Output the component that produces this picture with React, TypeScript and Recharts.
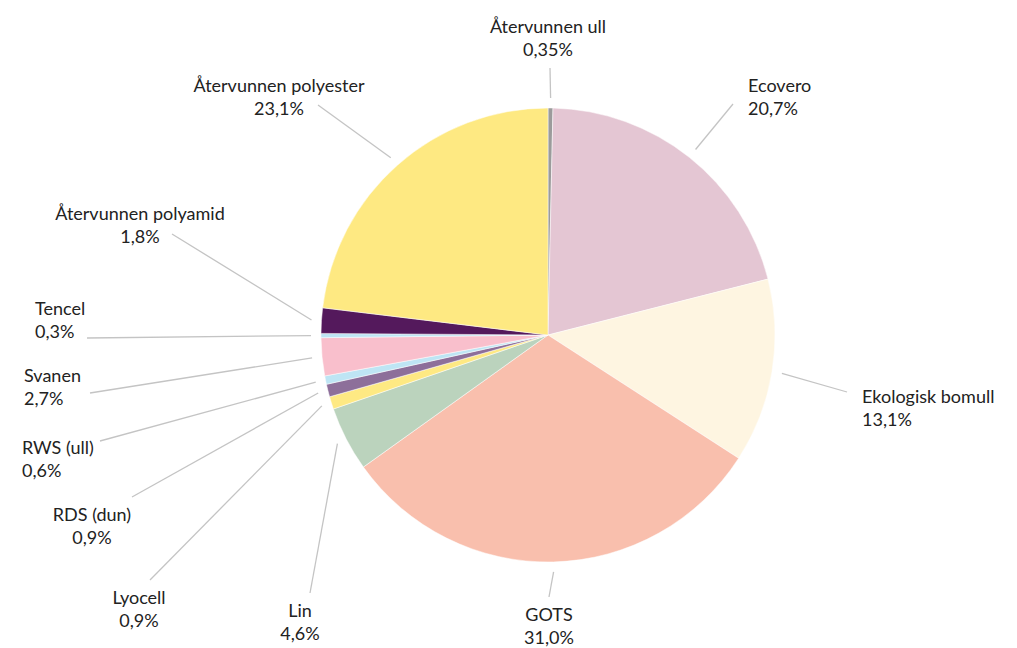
import { PieChart, Pie, Cell } from "recharts";

const materials = [
  "Återvunnen ull",
  "Ecovero",
  "Ekologisk bomull",
  "GOTS",
  "Lin",
  "Lyocell",
  "RDS (dun)",
  "RWS (ull)",
  "Svanen",
  "Tencel",
  "Återvunnen polyamid",
  "Återvunnen polyester",
];
const shares = [0.35, 20.7, 13.1, 31.0, 4.6, 0.9, 0.9, 0.6, 2.7, 0.3, 1.8, 23.1];
const shareLabels = ["0,35%", "20,7%", "13,1%", "31,0%", "4,6%", "0,9%", "0,9%", "0,6%", "2,7%", "0,3%", "1,8%", "23,1%"];
const colors = [
  "#9b9b9b", "#e4c6d3", "#fef5e1", "#f9bfad", "#bbd3bd", "#fee983",
  "#8d6f9a", "#bee5f4", "#f9bfcc", "#bee5f4", "#54195c", "#fee982",
];

// label layout, offsets from pie centre: line end (lx, ly), text position (tx, ty), anchor
const CX = 548;
const CY = 335;
const labelLayout = [
  { lx: 2, ly: -267, tx: 0, ty: -309, anchor: "middle" },
  { lx: 185, ly: -231, tx: 200, ty: -250, anchor: "start" },
  { lx: 299, ly: 57, tx: 314, ty: 61, anchor: "start" },
  { lx: 1, ly: 262, tx: 1, ty: 279, anchor: "middle" },
  { lx: -238, ly: 258, tx: -248, ty: 275, anchor: "middle" },
  { lx: -398, ly: 245, tx: -409, ty: 262, anchor: "middle" },
  { lx: -416, ly: 162, tx: -456, ty: 179, anchor: "middle" },
  { lx: -448, ly: 106, tx: -526, ty: 112, anchor: "start" },
  { lx: -458, ly: 58, tx: -524, ty: 40, anchor: "start" },
  { lx: -461, ly: 3, tx: -513, ty: -27, anchor: "start" },
  { lx: -376, ly: -101, tx: -408, ty: -122, anchor: "middle" },
  { lx: -230, ly: -230, tx: -269, ty: -250, anchor: "middle" },
];

const data = materials.map((name, i) => ({ name, value: shares[i], label: shareLabels[i] }));

const RAD = Math.PI / 180;
const FONT = "Lato, 'Open Sans', sans-serif";

function renderLabel(props: any) {
  const { cx, cy, midAngle, outerRadius, index } = props;
  const lay = labelLayout[index];
  const r = outerRadius + 10;
  const sx = cx + r * Math.cos(-midAngle * RAD);
  const sy = cy + r * Math.sin(-midAngle * RAD);
  const tx = cx + lay.tx;
  const ty = cy + lay.ty;
  return (
    <g key={`lbl-${index}`}>
      <line x1={sx} y1={sy} x2={cx + lay.lx} y2={cy + lay.ly} stroke="#c4c4c4" strokeWidth={1.3} />
      <text x={tx} y={ty} textAnchor={lay.anchor} dominantBaseline="central" fill="#222" fontSize={18} fontFamily={FONT}>
        {data[index].name}
      </text>
      <text x={tx} y={ty + 23} textAnchor={lay.anchor} dominantBaseline="central" fill="#222" fontSize={18} fontFamily={FONT}>
        {data[index].label}
      </text>
    </g>
  );
}

export default function App() {
  return (
    <div style={{ position: "absolute", left: 0, top: 0, width: 1017, height: 648, background: "#fff" }}>
      <PieChart width={1017} height={648} margin={{ top: 0, right: 0, bottom: 0, left: 0 }}>
        <Pie
          data={data}
          dataKey="value"
          nameKey="name"
          cx={CX}
          cy={CY}
          outerRadius={227}
          startAngle={90}
          endAngle={-270}
          stroke="#fff"
          strokeWidth={0.5}
          label={renderLabel}
          labelLine={false}
          isAnimationActive={false}
        >
          {data.map((d, i) => (
            <Cell key={d.name} fill={colors[i]} />
          ))}
        </Pie>
      </PieChart>
    </div>
  );
}
